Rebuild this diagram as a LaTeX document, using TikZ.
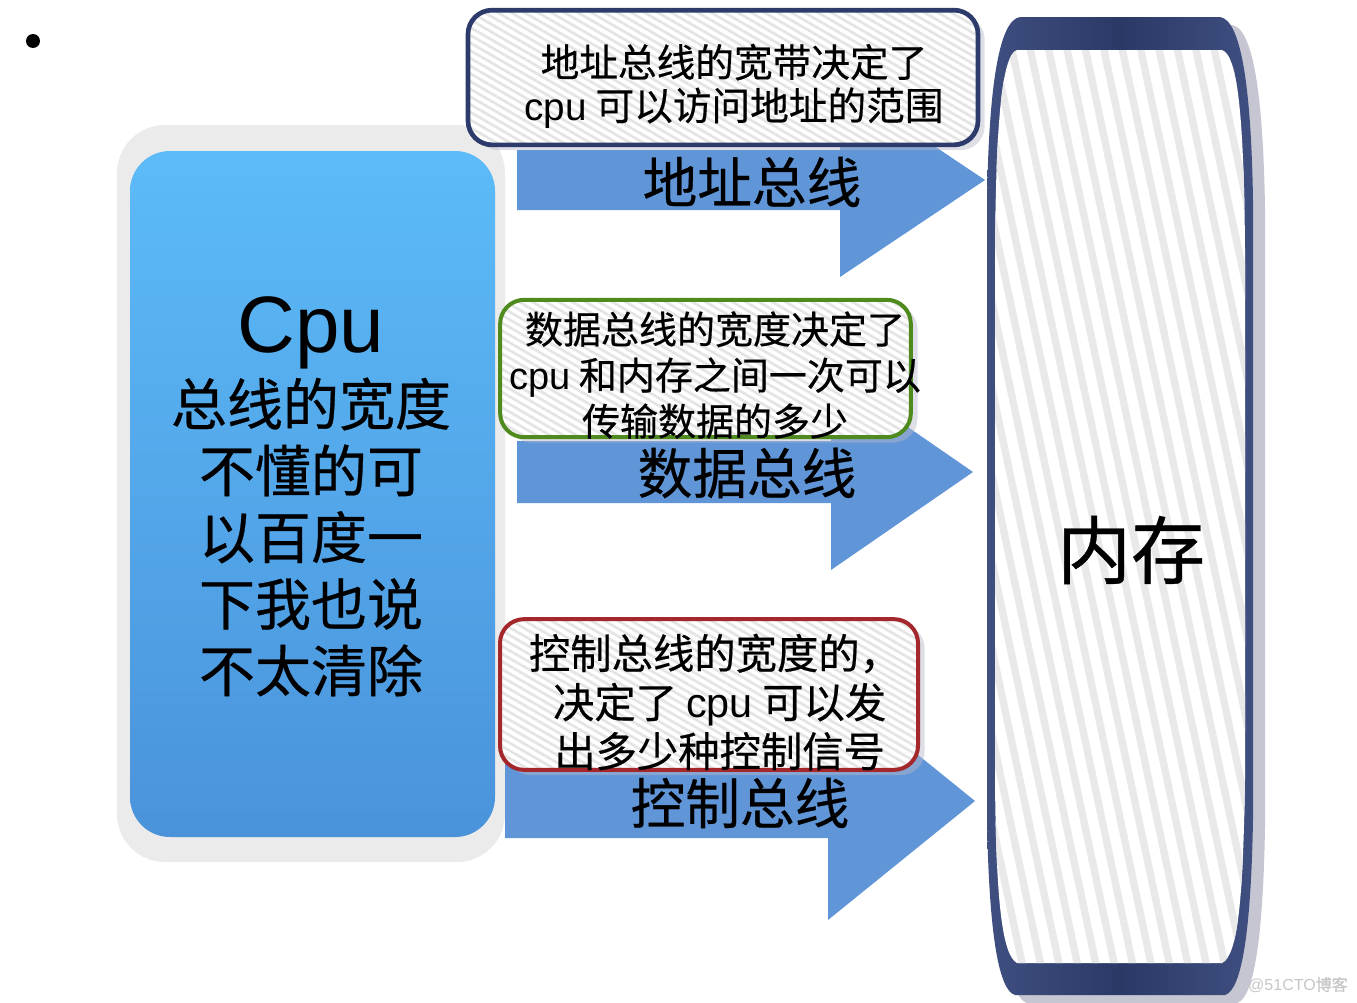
\documentclass[tikz,border=0pt]{standalone}
\usepackage{fontspec}
\setmainfont{Noto Sans CJK SC}[FakeBold=0.5]
\newfontfamily\lat{Liberation Sans}
\usetikzlibrary{patterns.meta,shadows}
\definecolor{navy}{HTML}{2C3B6B}
\definecolor{cgreen}{HTML}{4F8A1E}
\definecolor{cred}{HTML}{A3272B}
\definecolor{arrowc}{HTML}{6096D8}
\definecolor{cpuA}{HTML}{5CBBF8}
\definecolor{cpuB}{HTML}{4A93DB}
\definecolor{stripe}{HTML}{E4E4E4}
\definecolor{memstripe}{HTML}{E9E9E9}
\definecolor{memedge}{HTML}{3F4F80}
\definecolor{memmid}{HTML}{2A3966}
\definecolor{outergray}{HTML}{EBEBEB}
\definecolor{shadowc}{HTML}{B8B8C8}
\tikzset{
  callout/.style={rectangle, rounded corners=18pt, line width=3.5pt,
    drop shadow={shadow xshift=5pt, shadow yshift=-4pt, opacity=.45, fill=shadowc},
    preaction={fill=white},
    pattern={Lines[angle=-30,distance=5pt,line width=2pt]}, pattern color=stripe,
    inner sep=0pt},
  bartext/.style={font=\fontsize{41pt}{41pt}\selectfont, inner sep=0pt},
  boxtext/.style={align=center, inner sep=0pt},
  arrowshape/.style={fill=arrowc, draw=none}
}
\begin{document}
\begin{tikzpicture}[x=0.75pt,y=-0.75pt]
\useasboundingbox (0,0) rectangle (1357,1003);
\fill[white] (0,0) rectangle (1357,1003);
% bullet
\node[circle, fill=black, minimum size=10.5pt, inner sep=0pt] (bullet) at (33,41) {};
% CPU block
\fill[outergray, rounded corners=36pt] (117,125) rectangle (505,862);
\shade[left color=cpuA, right color=cpuB, shading angle=0, rounded corners=30pt] (130,151) rectangle (495,837);
\node[inner sep=0pt, font=\lat\fontsize{60pt}{60pt}\selectfont] (cpu) at (311,333) {Cpu};
\node[boxtext, font=\fontsize{42pt}{50pt}\selectfont] (cputxt) at (311,537) {总线的宽度\\不懂的可\\以百度一\\下我也说\\不太清除};
% arrows
\fill[arrowshape] (517,150) -- (840,150) -- (840,83) -- (985,180) -- (840,277) -- (840,210) -- (517,210) -- cycle;
\fill[arrowshape] (517,441) -- (831,441) -- (831,374) -- (973,472) -- (831,570) -- (831,503) -- (517,503) -- cycle;
\fill[arrowshape] (505,764) -- (828,764) -- (828,682) -- (975,801) -- (828,920) -- (828,838) -- (505,838) -- cycle;
\node[bartext] (lab1) at (752,182) {地址总线};
\node[bartext] (lab2) at (747,473) {数据总线};
\node[bartext] (lab3) at (740,803) {控制总线};
% callouts
\node[callout, draw=navy, minimum width=382.5pt, minimum height=101pt] (box1) at (723,77.5) {};
\node[boxtext, font=\fontsize{29pt}{32.5pt}\selectfont] (txt1) at (734,86) {地址总线的宽带决定了\\{\lat cpu} 可以访问地址的范围};
\node[callout, draw=cgreen, line width=3pt, minimum width=308pt, minimum height=103pt] (box2) at (705.5,368.5) {};
\node[boxtext, font=\fontsize{28.5pt}{34.5pt}\selectfont] (txt2) at (715,375) {数据总线的宽度决定了\\{\lat cpu} 和内存之间一次可以\\传输数据的多少};
\node[callout, draw=cred, line width=3pt, minimum width=313.5pt, minimum height=113pt] (box3) at (709,694.5) {};
\node[boxtext, font=\fontsize{31pt}{36.75pt}\selectfont] (txt3) at (715,702) {控制总线的宽度的，\\~决定了 {\lat cpu} 可以发\\~出多少种控制信号};
% memory
\fill[shadowc, opacity=.8] ([shift={(12,8)}]1020,17) -- ++(200,0) .. controls +(20,3) and +(-2,-120) .. ++(33,183) -- ++(0,620) .. controls +(-2,110) and +(17,-5) .. ++(-28,175) -- ++(-210,0) .. controls +(-17,-5) and +(0,110) .. ++(-28,-175) -- ++(0,-620) .. controls +(2,-120) and +(-20,3) .. ++(33,-183) -- cycle;
\shade[left color=memedge, right color=memedge, middle color=memmid]
  (1020,17) -- (1220,17) .. controls (1240,20) and (1251,80) .. (1253,200) -- (1253,820) .. controls (1251,930) and (1242,990) .. (1225,995) -- (1015,995) .. controls (998,990) and (989,930) .. (987,820) -- (987,200) .. controls (989,80) and (1000,20) .. (1020,17) -- cycle;
\fill[white] (1017,50) -- (1222,50) .. controls (1238,55) and (1244,120) .. (1245,250) -- (1245,780) .. controls (1243,900) and (1238,955) .. (1222,963) -- (1017,963) .. controls (1002,955) and (996,900) .. (995,780) -- (995,250) .. controls (996,120) and (1002,55) .. (1017,50) -- cycle;
\fill[pattern={Lines[angle=-78,distance=13.5pt,line width=5.5pt]}, pattern color=memstripe] (1017,50) -- (1222,50) .. controls (1238,55) and (1244,120) .. (1245,250) -- (1245,780) .. controls (1243,900) and (1238,955) .. (1222,963) -- (1017,963) .. controls (1002,955) and (996,900) .. (995,780) -- (995,250) .. controls (996,120) and (1002,55) .. (1017,50) -- cycle;
\node[inner sep=0pt, font=\fontsize{55.5pt}{55.5pt}\selectfont] (mem) at (1131,550) {内存};
% watermark
\node[inner sep=0pt, text=gray!45, font=\fontsize{12pt}{12pt}\selectfont, anchor=east] (wm) at (1348,985) {{\lat @51CTO}博客};
\end{tikzpicture}
\end{document}
